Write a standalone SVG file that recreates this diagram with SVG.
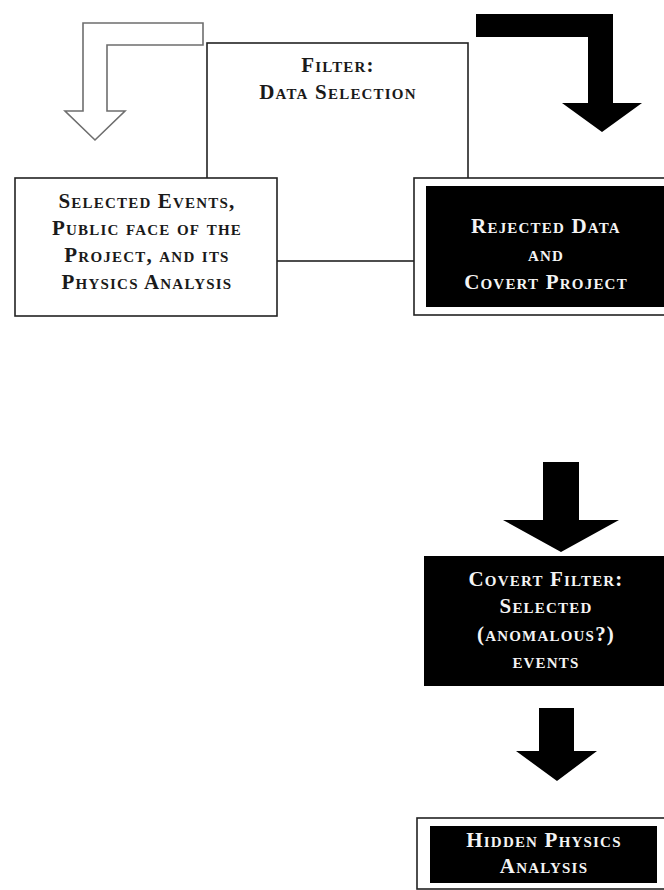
<svg xmlns="http://www.w3.org/2000/svg" width="664" height="890" viewBox="0 0 664 890">
<style>
  .t { font-family: "Liberation Serif", "Times New Roman", serif; font-weight: bold; font-variant: small-caps; font-size: 21px; letter-spacing: 1.2px; text-anchor: middle; }
  .dark { fill: #1a1a1a; }
  .light { fill: #f4f4f4; }
  .frame { fill: #ffffff; stroke: #222222; stroke-width: 1.6; }
  .blk { fill: #000000; }
</style>
<rect width="664" height="890" fill="#ffffff"/>

<g id="filter">
  <rect x="207" y="43" width="261" height="218" fill="#ffffff" stroke="#222222" stroke-width="1.6"/>
  <text class="t dark" x="338" y="72">Filter:</text>
  <text class="t dark" x="338" y="99">Data Selection</text>
</g>

<g id="selected">
  <rect class="frame" x="15" y="178" width="262" height="138"/>
  <text class="t dark" x="147" y="208">Selected Events,</text>
  <text class="t dark" x="147" y="235">Public face of the</text>
  <text class="t dark" x="147" y="262">Project, and its</text>
  <text class="t dark" x="147" y="289">Physics Analysis</text>
</g>

<g id="rejected">
  <rect class="frame" x="414" y="178" width="260" height="137"/>
  <rect class="blk" x="426" y="186" width="240" height="121"/>
  <text class="t light" x="546" y="233">Rejected Data</text>
  <text class="t light" x="546" y="261">and</text>
  <text class="t light" x="546" y="289">Covert Project</text>
</g>

<g id="covert-filter">
  <rect class="blk" x="424" y="556" width="242" height="130"/>
  <text class="t light" x="546" y="586">Covert Filter:</text>
  <text class="t light" x="546" y="613">Selected</text>
  <text class="t light" x="546" y="641">(anomalous?)</text>
  <text class="t light" x="546" y="668">events</text>
</g>

<g id="hidden">
  <rect class="frame" x="417" y="818" width="257" height="71"/>
  <rect class="blk" x="430" y="826" width="227" height="57"/>
  <text class="t light" x="544" y="847">Hidden Physics</text>
  <text class="t light" x="544" y="873">Analysis</text>
</g>

<g id="connectors">
  <path d="M203,23 L83,23 L83,111 L65,111 L95,140 L125,111 L107,111 L107,45 L203,45 Z" fill="#ffffff" stroke="#6e6e6e" stroke-width="1.6" stroke-linejoin="miter"/>
  <path d="M476,14 L613,14 L613,103 L642,103 L602,132 L562,103 L588,103 L588,37 L476,37 Z" fill="#000000"/>
  <path d="M543,462 L579,462 L579,520 L619,520 L561,552 L503,520 L543,520 Z" fill="#000000"/>
  <path d="M539,708 L574,708 L574,751 L597,751 L557,781 L516,751 L539,751 Z" fill="#000000"/>
</g>
</svg>
